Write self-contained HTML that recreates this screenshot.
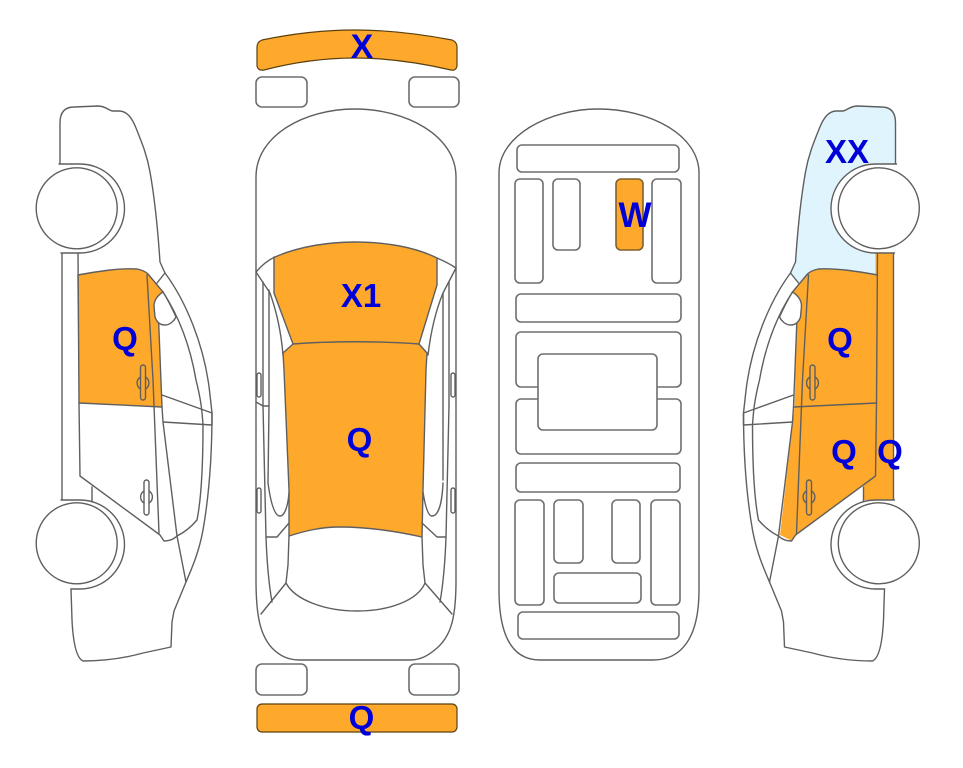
<!DOCTYPE html>
<html>
<head>
<meta charset="utf-8">
<style>
html,body{margin:0;padding:0;background:#fff;width:963px;height:768px;overflow:hidden}
svg{display:block}
.l{fill:none;stroke:#5f5f5f;stroke-width:1.4;stroke-linejoin:round;stroke-linecap:round}
.w{fill:#fff;stroke:#5f5f5f;stroke-width:1.4}
.f{fill:#fff;stroke:none}
.o{fill:#ffa92c}
.os{fill:#ffa92c;stroke:#5a4010;stroke-width:1.2}
.r{fill:#fff;stroke:#6e6e6e;stroke-width:1.6}
.b{fill:#dff4fc}
text{font-family:"Liberation Sans",sans-serif;font-weight:bold;font-size:33px;fill:#0000d8;text-anchor:middle}
</style>
</head>
<body>
<svg width="963" height="768" viewBox="0 0 963 768" xmlns="http://www.w3.org/2000/svg">
<defs>
<g id="side">
  <path class="l" d="M60 164 L60 123 C60 112 65 107 74 107 L98 106 C106 106 109 111 113 111 L119 111 C127 111 132 118 136 128 C142 143 147 155 150 172 C155 200 158 232 160 262 L165 273 C185 300 205 345 210 395 L212 413 C212 450 210 490 203 530 C199 552 192 568 186 582 L174 611 L172 622 L171 647 L143 653 C125 658 105 661 83 661 C76 658 73 640 72 620 L71 589"/>
  <path class="l" d="M62 253 L62 501"/>
  <path class="l" d="M78 253 L79 403 L80 476 L160 535 L164 541 C170 541 174 539 177 536 C185 532 192 526 197 520 C201 500 203 470 203 425"/>
  <path class="l" d="M157 283 L165 273"/>
  <path class="l" d="M163 292 C178 315 190 345 196 380 C201 400 202 410 203 425"/>
  <path class="l" d="M78 275 C100 271 120 268 137 269 C142 270 146 272 148 274 L163 292"/>
  <path class="l" d="M147 275 L153 380 L159 533"/>
  <path class="l" d="M79 403 L162 407"/>
  <path class="l" d="M158 305 L162 407 L163 422 L177 536 L186 582"/>
  <path class="l" d="M162 395 L212 413 L212 425 L163 422"/>
  <path class="l" d="M92 487 L92 501"/>
  <path class="w" d="M163 292 C158 295 154 300 154 306 L155 317 C157 323 161 325 165 325 C170 325 174 321 176 317 C172 308 168 300 163 292 Z"/>
  <path class="l" d="M140.500 377 A7 7 0 0 0 140.500 389 M145.500 377 A7 7 0 0 1 145.500 389"/>
  <rect class="l" x="140.500" y="365" width="5" height="35" rx="2.500"/>
  <path class="l" d="M144 491 A7 7 0 0 0 144 503 M149 491 A7 7 0 0 1 149 503"/>
  <rect class="l" x="144" y="480" width="5" height="35" rx="2.500"/>
  <path class="f" d="M59 164 L80 164 A44.500 44.500 0 0 1 80 253 L61 253 Z"/>
  <path class="l" d="M59 164 L80 164 A44.500 44.500 0 0 1 80 253 L61 253"/>
  <circle class="w" cx="76.700" cy="208.300" r="40.500"/>
  <path class="f" d="M61 500 L80 500 A44.500 44.500 0 0 1 80 589 L71 589 Z"/>
  <path class="l" d="M61 500 L80 500 A44.500 44.500 0 0 1 80 589 L71 589"/>
  <circle class="w" cx="76.700" cy="543.300" r="40.500"/>
</g>
</defs>

<!-- left car -->
<path class="o" d="M77 275 C100 271 120 268 137 269 C142 270 146 272 148 274 L163 292 L158 305 L162 407 L79 403 Z"/>
<use href="#side"/>

<!-- right car -->
<g transform="translate(955.500 0) scale(-1 1)">
  <path class="b" d="M60 253 L60 123 C60 112 65 107 74 107 L98 106 C106 106 109 111 113 111 L119 111 C127 111 132 118 136 128 C142 143 147 155 150 172 C155 200 158 232 160 262 L165 273 L157 283 L138 269 L77 274 L77 253 Z"/>
  <path class="o" d="M61.500 253 H80 V476 L91.500 485 V500 H61.500 Z"/>
  <path class="o" d="M77 275 C100 271 120 268 137 269 C142 270 146 272 148 274 L163 292 L158 305 L161 407 L175.500 535 L163.500 541 L159 535 L79.500 476 Z"/>
  <use href="#side"/>
</g>

<!-- top view -->
<path class="os" d="M257 47 Q257 42 262 40 Q310 30 355 30 Q400 30 452 40 Q457 42 457 47 L457 66 Q456 71 451 70 Q400 58 355 58 Q310 58 264 70 Q258 71 257 66 Z"/>
<rect class="r" x="256" y="77" width="51" height="30" rx="6"/>
<rect class="r" x="409" y="77" width="50" height="30" rx="6"/>
<path class="l" d="M256 177 C256 135 305 109 355 109 C405 109 456 135 456 177 L456 580 C456 615 452 635 437 648 C428 656 420 660 410 660 L300 660 C288 660 280 656 272 648 C260 635 256 615 256 580 Z"/>
<path class="o" d="M274 257 C300 246 330 242 355 242 C385 242 415 247 437 258 L437 285 L419 344 L427 353 L426 370 L423 490 L422 537 C395 531 365 527 340 527 C320 527 305 531 289 536 L289 490 L284 370 L283 353 L293 344 L274 293 Z"/>
<path class="l" d="M256 272 C262 265 268 260 275 257 C300 246 330 242 355 242 C385 242 415 247 437 258 C444 261 450 264 456 268"/>
<path class="l" d="M274 257 L274 293 L293 344 C330 341 380 341 419 344 L437 285 L437 258"/>
<path class="l" d="M293 344 L283 353 L284 370 L289 490 L289 536 C305 531 320 527 340 527 C365 527 395 531 422 537 L423 490 L426 370 L427 353 L419 344"/>
<path class="l" d="M256 272 L270 293 C276 310 281 330 283 355"/>
<path class="l" d="M456 268 L443 293 C436 310 431 330 428 355"/>
<path class="l" d="M263 282 L263 406 M269 290 L269 406 M256 402 L263 406 L269 406"/>
<path class="l" d="M449 282 L449 406 M443 293 L443 480"/>
<path class="l" d="M269 406 L268 483 C271 505 275 516 280 516 C285 516 288 505 289 493"/>
<path class="l" d="M423 492 C425 505 428 516 432 516 C438 516 442 505 443 483"/>
<path class="l" d="M263 406 L266 537 C267 565 269 585 272 602"/>
<path class="l" d="M449 406 L446 537 C445 565 443 585 440 602"/>
<path class="l" d="M266 537 L277 537 L289 523 M422 523 L437 537 L446 537"/>
<path class="l" d="M289 536 L288 565 L286 583 C295 600 325 611 357 611 C390 611 418 600 425 583 L423 565 L422 537"/>
<path class="l" d="M286 583 L261 614 M425 583 L452 614"/>
<rect class="w" x="257" y="373" width="4" height="24" rx="2"/>
<rect class="w" x="257" y="488" width="4" height="25" rx="2"/>
<rect class="w" x="451" y="373" width="4" height="24" rx="2"/>
<rect class="w" x="451" y="488" width="4" height="25" rx="2"/>
<rect class="r" x="256" y="664" width="51" height="31" rx="6"/>
<rect class="r" x="409" y="664" width="50" height="31" rx="6"/>
<rect class="os" x="257" y="704" width="200" height="28" rx="5"/>

<!-- centre view -->
<path class="l" d="M499 173 C499 135 550 109 598 109 C650 109 699 135 699 173 L699 590 C699 640 680 660 653 660 L540 660 C515 660 499 640 499 590 Z"/>
<rect class="r" x="517" y="145" width="162" height="27" rx="5"/>
<rect class="r" x="515" y="179" width="28" height="104" rx="5"/>
<rect class="r" x="553" y="179" width="27" height="71" rx="5"/>
<rect x="616" y="179" width="27" height="71" rx="5" fill="#ffa92c" stroke="#80602a" stroke-width="1.600"/>
<rect class="r" x="652" y="179" width="29" height="104" rx="5"/>
<rect class="r" x="516" y="294" width="165" height="28" rx="5"/>
<rect class="r" x="516" y="332" width="165" height="55" rx="5"/>
<rect class="r" x="516" y="399" width="165" height="55" rx="5"/>
<rect class="r" x="538" y="354" width="119" height="76" rx="5"/>
<rect class="r" x="516" y="463" width="164" height="29" rx="5"/>
<rect class="r" x="515" y="500" width="29" height="105" rx="5"/>
<rect class="r" x="554" y="500" width="29" height="63" rx="5"/>
<rect class="r" x="612" y="500" width="28" height="63" rx="5"/>
<rect class="r" x="651" y="500" width="29" height="105" rx="5"/>
<rect class="r" x="554" y="573" width="87" height="30" rx="5"/>
<rect class="r" x="518" y="612" width="161" height="27" rx="5"/>

<!-- labels -->
<text x="362" y="58" style="font-size:34px">X</text>
<text x="361" y="307">X1</text>
<text x="125" y="350">Q</text>
<text x="359.500" y="451">Q</text>
<text x="361.500" y="729">Q</text>
<text x="635" y="227" style="font-size:35px">W</text>
<text x="847" y="163">XX</text>
<text x="840" y="351">Q</text>
<text x="844" y="463">Q</text>
<text x="890" y="463">Q</text>
</svg>
</body>
</html>
